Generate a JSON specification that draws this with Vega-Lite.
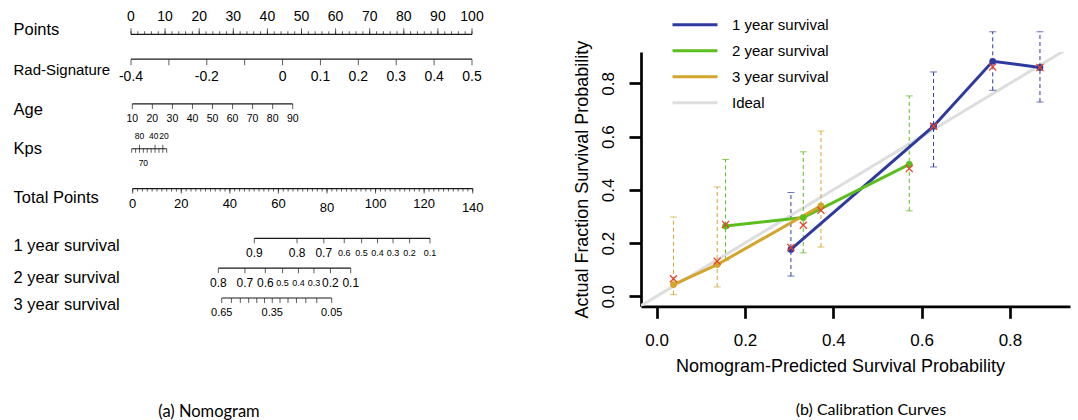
{
  "$schema": "https://vega.github.io/schema/vega-lite/v6.json",
  "background": "white",
  "padding": {"left": 13, "top": 10, "right": 2, "bottom": 2},
  "config": {"view": {"stroke": null}, "font": "Liberation Sans"},
  "datasets": {
    "nomo": [
      {"row":"Points","v":0,"lab":"0"},{"row":"Points","v":2},{"row":"Points","v":4},{"row":"Points","v":6},{"row":"Points","v":8},
      {"row":"Points","v":10,"lab":"10"},{"row":"Points","v":12},{"row":"Points","v":14},{"row":"Points","v":16},{"row":"Points","v":18},
      {"row":"Points","v":20,"lab":"20"},{"row":"Points","v":22},{"row":"Points","v":24},{"row":"Points","v":26},{"row":"Points","v":28},
      {"row":"Points","v":30,"lab":"30"},{"row":"Points","v":32},{"row":"Points","v":34},{"row":"Points","v":36},{"row":"Points","v":38},
      {"row":"Points","v":40,"lab":"40"},{"row":"Points","v":42},{"row":"Points","v":44},{"row":"Points","v":46},{"row":"Points","v":48},
      {"row":"Points","v":50,"lab":"50"},{"row":"Points","v":52},{"row":"Points","v":54},{"row":"Points","v":56},{"row":"Points","v":58},
      {"row":"Points","v":60,"lab":"60"},{"row":"Points","v":62},{"row":"Points","v":64},{"row":"Points","v":66},{"row":"Points","v":68},
      {"row":"Points","v":70,"lab":"70"},{"row":"Points","v":72},{"row":"Points","v":74},{"row":"Points","v":76},{"row":"Points","v":78},
      {"row":"Points","v":80,"lab":"80"},{"row":"Points","v":82},{"row":"Points","v":84},{"row":"Points","v":86},{"row":"Points","v":88},
      {"row":"Points","v":90,"lab":"90"},{"row":"Points","v":92},{"row":"Points","v":94},{"row":"Points","v":96},{"row":"Points","v":98},
      {"row":"Points","v":100,"lab":"100"},
      {"row":"Rad-Signature","v":-0.4,"lab":"-0.4"},{"row":"Rad-Signature","v":-0.3},{"row":"Rad-Signature","v":-0.2,"lab":"-0.2"},
      {"row":"Rad-Signature","v":-0.1},{"row":"Rad-Signature","v":0,"lab":"0"},{"row":"Rad-Signature","v":0.1,"lab":"0.1"},
      {"row":"Rad-Signature","v":0.2,"lab":"0.2"},{"row":"Rad-Signature","v":0.3,"lab":"0.3"},{"row":"Rad-Signature","v":0.4,"lab":"0.4"},
      {"row":"Rad-Signature","v":0.5,"lab":"0.5"},
      {"row":"Age","v":10,"lab":"10"},{"row":"Age","v":20,"lab":"20"},{"row":"Age","v":30,"lab":"30"},{"row":"Age","v":40,"lab":"40"},
      {"row":"Age","v":50,"lab":"50"},{"row":"Age","v":60,"lab":"60"},{"row":"Age","v":70,"lab":"70"},{"row":"Age","v":80,"lab":"80"},
      {"row":"Age","v":90,"lab":"90"},
      {"row":"Kps","v":100},{"row":"Kps","v":90},{"row":"Kps","v":80,"lab":"80"},{"row":"Kps","v":70,"lab":"70"},{"row":"Kps","v":60},
      {"row":"Kps","v":50},{"row":"Kps","v":40,"lab":"40"},{"row":"Kps","v":30},{"row":"Kps","v":20,"lab":"20"},{"row":"Kps","v":10},
      {"row":"Total Points","v":0,"lab":"0"},{"row":"Total Points","v":2},{"row":"Total Points","v":4},{"row":"Total Points","v":6},{"row":"Total Points","v":8},
      {"row":"Total Points","v":10},{"row":"Total Points","v":12},{"row":"Total Points","v":14},{"row":"Total Points","v":16},{"row":"Total Points","v":18},
      {"row":"Total Points","v":20,"lab":"20"},{"row":"Total Points","v":22},{"row":"Total Points","v":24},{"row":"Total Points","v":26},{"row":"Total Points","v":28},
      {"row":"Total Points","v":30},{"row":"Total Points","v":32},{"row":"Total Points","v":34},{"row":"Total Points","v":36},{"row":"Total Points","v":38},
      {"row":"Total Points","v":40,"lab":"40"},{"row":"Total Points","v":42},{"row":"Total Points","v":44},{"row":"Total Points","v":46},{"row":"Total Points","v":48},
      {"row":"Total Points","v":50},{"row":"Total Points","v":52},{"row":"Total Points","v":54},{"row":"Total Points","v":56},{"row":"Total Points","v":58},
      {"row":"Total Points","v":60,"lab":"60"},{"row":"Total Points","v":62},{"row":"Total Points","v":64},{"row":"Total Points","v":66},{"row":"Total Points","v":68},
      {"row":"Total Points","v":70},{"row":"Total Points","v":72},{"row":"Total Points","v":74},{"row":"Total Points","v":76},{"row":"Total Points","v":78},
      {"row":"Total Points","v":80,"lab":"80"},{"row":"Total Points","v":82},{"row":"Total Points","v":84},{"row":"Total Points","v":86},{"row":"Total Points","v":88},
      {"row":"Total Points","v":90},{"row":"Total Points","v":92},{"row":"Total Points","v":94},{"row":"Total Points","v":96},{"row":"Total Points","v":98},
      {"row":"Total Points","v":100,"lab":"100"},{"row":"Total Points","v":102},{"row":"Total Points","v":104},{"row":"Total Points","v":106},{"row":"Total Points","v":108},
      {"row":"Total Points","v":110},{"row":"Total Points","v":112},{"row":"Total Points","v":114},{"row":"Total Points","v":116},{"row":"Total Points","v":118},
      {"row":"Total Points","v":120,"lab":"120"},{"row":"Total Points","v":122},{"row":"Total Points","v":124},{"row":"Total Points","v":126},{"row":"Total Points","v":128},
      {"row":"Total Points","v":130},{"row":"Total Points","v":132},{"row":"Total Points","v":134},{"row":"Total Points","v":136},{"row":"Total Points","v":138},
      {"row":"Total Points","v":140,"lab":"140"},
      {"row":"1 year survival","v":50.07,"lab":"0.9"},{"row":"1 year survival","v":67.68,"lab":"0.8"},{"row":"1 year survival","v":78.68,"lab":"0.7"},
      {"row":"1 year survival","v":87.10,"lab":"0.6"},{"row":"1 year survival","v":94.26,"lab":"0.5"},{"row":"1 year survival","v":100.81,"lab":"0.4"},
      {"row":"1 year survival","v":107.21,"lab":"0.3"},{"row":"1 year survival","v":114.02,"lab":"0.2"},{"row":"1 year survival","v":122.42,"lab":"0.1"},
      {"row":"2 year survival","v":35.25,"lab":"0.8"},{"row":"2 year survival","v":46.21,"lab":"0.7"},{"row":"2 year survival","v":54.60,"lab":"0.6"},
      {"row":"2 year survival","v":61.73,"lab":"0.5"},{"row":"2 year survival","v":68.25,"lab":"0.4"},{"row":"2 year survival","v":74.63,"lab":"0.3"},
      {"row":"2 year survival","v":81.41,"lab":"0.2"},{"row":"2 year survival","v":89.77,"lab":"0.1"},
      {"row":"3 year survival","v":36.66,"lab":"0.65"},{"row":"3 year survival","v":40.64},{"row":"3 year survival","v":44.31},
      {"row":"3 year survival","v":47.76},{"row":"3 year survival","v":51.07},{"row":"3 year survival","v":54.28},
      {"row":"3 year survival","v":57.46,"lab":"0.35"},{"row":"3 year survival","v":60.65},{"row":"3 year survival","v":63.95},
      {"row":"3 year survival","v":67.43},{"row":"3 year survival","v":71.27},{"row":"3 year survival","v":75.79},
      {"row":"3 year survival","v":81.94,"lab":"0.05"}
    ],
    "cal": [
      {"series":"1 year survival","pred":0.304,"obs":0.176,"corr":0.183,"lo":0.076,"hi":0.390},
      {"series":"1 year survival","pred":0.627,"obs":0.639,"corr":0.639,"lo":0.486,"hi":0.843},
      {"series":"1 year survival","pred":0.761,"obs":0.883,"corr":0.862,"lo":0.774,"hi":0.994},
      {"series":"1 year survival","pred":0.868,"obs":0.860,"corr":0.860,"lo":0.730,"hi":0.994},
      {"series":"2 year survival","pred":0.156,"obs":0.264,"corr":0.270,"lo":0.135,"hi":0.514},
      {"series":"2 year survival","pred":0.332,"obs":0.296,"corr":0.267,"lo":0.163,"hi":0.543},
      {"series":"2 year survival","pred":0.572,"obs":0.496,"corr":0.480,"lo":0.321,"hi":0.753},
      {"series":"3 year survival","pred":0.038,"obs":0.044,"corr":0.066,"lo":0.006,"hi":0.298},
      {"series":"3 year survival","pred":0.137,"obs":0.119,"corr":0.132,"lo":0.035,"hi":0.411},
      {"series":"3 year survival","pred":0.372,"obs":0.340,"corr":0.323,"lo":0.185,"hi":0.621}
    ],
    "ideal": [
      {"series":"Ideal","pred":-0.1,"obs":-0.1},
      {"series":"Ideal","pred":1.1,"obs":1.1}
    ]
  },
  "spacing": 151,
  "bounds": "flush",
  "resolve": {"scale": {"color": "independent"}, "legend": {"color": "independent"}},
  "hconcat": [
    {
      "width": 370,
      "height": 254.3,
      "title": {"text": "(a) Nomogram", "orient": "bottom", "anchor": "middle", "frame": "group", "dx": -96, "offset": 86, "font": "Lato", "fontSize": 16.5, "fontWeight": "normal", "color": "black"},
      "data": {"name": "nomo"},
      "encoding": {
        "y": {
          "field": "row", "type": "nominal",
          "scale": {"type": "point", "padding": 0, "range": [-17.7, 246],
            "domain": ["Points","s1","s2","s3","s4","Rad-Signature","s6","s7","s8","s9","s10","s11","s12","s13","Age","s15","s16","s17","s18","s19","s20","s21","s22","Kps","s24","s25","s26","s27","s28","s29","s30","Total Points","s32","s33","s34","s35","s36","s37","s38","s39","s40","1 year survival","s42","s43","s44","s45","s46","2 year survival","s48","s49","s50","s51","s52","3 year survival"]},
          "axis": {
            "values": ["Points","Rad-Signature","Age","Kps","Total Points","1 year survival","2 year survival","3 year survival"],
            "domain": false, "ticks": false, "tickSize": 0, "grid": false, "title": null,
            "labelAlign": "left", "labelBaseline": "middle", "labelPadding": 107, "labelLimit": 0,
            "labelFont": "Liberation Sans", "labelColor": "black",
            "labelFontSize": {"condition": {"test": "datum.value == 'Rad-Signature'", "value": 15}, "value": 16.5},
            "labelOffset": {"condition": [
              {"test": "datum.value == 'Points'", "value": -5},
              {"test": "datum.value == 'Rad-Signature'", "value": 10},
              {"test": "datum.value == 'Age'", "value": 6},
              {"test": "datum.value == 'Kps'", "value": 0},
              {"test": "datum.value == 'Total Points' || datum.value == '2 year survival'", "value": 9}
            ], "value": 7}
          }
        }
      },
      "resolve": {"scale": {"x": "independent"}},
      "layer": [
        {
          "transform": [{"filter": "datum.row == 'Points'"}],
          "encoding": {"x": {"field": "v", "type": "quantitative", "scale": {"domain": [-3.226, 105.279], "nice": false, "zero": false}, "axis": null}},
          "layer": [
            {"mark": {"type": "rule", "color": "#1a1a1a", "strokeWidth": 1.2},
             "encoding": {"x": {"aggregate": "min", "field": "v", "type": "quantitative", "scale": {"domain": [-3.226, 105.279], "nice": false, "zero": false}, "axis": null}, "x2": {"aggregate": "max", "field": "v"}}},
            {"mark": {"type": "tick", "orient": "vertical", "size": 3, "thickness": 1, "yOffset": -1.5, "color": "#1a1a1a"}},
            {"transform": [{"filter": "isValid(datum.lab)"}], "mark": {"type": "tick", "orient": "vertical", "size": 6, "thickness": 1, "yOffset": -3, "color": "#1a1a1a"}},
            {"transform": [{"filter": "isValid(datum.lab)"}], "mark": {"type": "text", "dy": -17, "fontSize": 14, "baseline": "middle", "color": "black", "font": "Liberation Sans"}, "encoding": {"text": {"field": "lab", "type": "nominal"}}}
          ]
        },
        {
          "transform": [{"filter": "datum.row == 'Kps'"}],
          "encoding": {"x": {"field": "v", "type": "quantitative", "scale": {"domain": [130.08, -821.3], "nice": false, "zero": false}, "axis": null}},
          "layer": [
            {"mark": {"type": "rule", "color": "#1a1a1a", "strokeWidth": 1.2},
             "encoding": {"x": {"aggregate": "min", "field": "v", "type": "quantitative", "scale": {"domain": [130.08, -821.3], "nice": false, "zero": false}, "axis": null}, "x2": {"aggregate": "max", "field": "v"}}},
            {"mark": {"type": "tick", "orient": "vertical", "size": 4, "thickness": 1, "yOffset": 2, "color": "#1a1a1a"}},
            {"transform": [{"filter": "isValid(datum.lab) && datum.lab != '70'"}], "mark": {"type": "tick", "orient": "vertical", "size": 4, "thickness": 1, "yOffset": -2, "color": "#1a1a1a"}},
            {"transform": [{"filter": "datum.lab == '80'"}], "mark": {"type": "text", "dy": -13, "fontSize": 8.5, "baseline": "middle", "color": "black", "font": "Liberation Sans"}, "encoding": {"text": {"field": "lab", "type": "nominal"}}},
            {"transform": [{"filter": "datum.lab == '40'"}], "mark": {"type": "text", "dy": -13, "dx": -1.4, "fontSize": 8.5, "baseline": "middle", "color": "black", "font": "Liberation Sans"}, "encoding": {"text": {"field": "lab", "type": "nominal"}}},
            {"transform": [{"filter": "datum.lab == '20'"}], "mark": {"type": "text", "dy": -13, "dx": 1.2, "fontSize": 8.5, "baseline": "middle", "color": "black", "font": "Liberation Sans"}, "encoding": {"text": {"field": "lab", "type": "nominal"}}},
            {"transform": [{"filter": "datum.lab == '70'"}], "mark": {"type": "text", "dy": 14, "fontSize": 8.5, "baseline": "middle", "color": "black", "font": "Liberation Sans"}, "encoding": {"text": {"field": "lab", "type": "nominal"}}}
          ]
        },
        {
          "transform": [{"filter": "datum.row == 'Rad-Signature'"}],
          "encoding": {"x": {"field": "v", "type": "quantitative", "scale": {"domain": [-0.42903, 0.54751], "nice": false, "zero": false}, "axis": null}},
          "layer": [
            {"mark": {"type": "rule", "color": "#1a1a1a", "strokeWidth": 1.2},
             "encoding": {"x": {"aggregate": "min", "field": "v", "type": "quantitative", "scale": {"domain": [-0.42903, 0.54751], "nice": false, "zero": false}, "axis": null}, "x2": {"aggregate": "max", "field": "v"}}},
            {"mark": {"type": "tick", "orient": "vertical", "size": 6, "thickness": 1, "yOffset": 3, "color": "#1a1a1a"}},
            {"transform": [{"filter": "isValid(datum.lab)"}], "mark": {"type": "text", "dy": 18, "fontSize": 14, "baseline": "middle", "color": "black", "font": "Liberation Sans"}, "encoding": {"text": {"field": "lab", "type": "nominal"}}}
          ]
        },
        {
          "transform": [{"filter": "datum.row == 'Age'"}],
          "encoding": {"x": {"field": "v", "type": "quantitative", "scale": {"domain": [3.865, 188.40], "nice": false, "zero": false}, "axis": null}},
          "layer": [
            {"mark": {"type": "rule", "color": "#1a1a1a", "strokeWidth": 1.2},
             "encoding": {"x": {"aggregate": "min", "field": "v", "type": "quantitative", "scale": {"domain": [3.865, 188.40], "nice": false, "zero": false}, "axis": null}, "x2": {"aggregate": "max", "field": "v"}}},
            {"mark": {"type": "tick", "orient": "vertical", "size": 5, "thickness": 1, "yOffset": 2.5, "color": "#1a1a1a"}},
            {"mark": {"type": "text", "dy": 15.5, "fontSize": 10.5, "baseline": "middle", "color": "black", "font": "Liberation Sans"}, "encoding": {"text": {"field": "lab", "type": "nominal"}}}
          ]
        },
        {
          "transform": [{"filter": "datum.row == 'Total Points' || datum.row == '1 year survival' || datum.row == '2 year survival' || datum.row == '3 year survival'"}],
          "encoding": {"x": {"field": "v", "type": "quantitative", "scale": {"domain": [-5.229, 147.12], "nice": false, "zero": false}, "axis": null}},
          "layer": [
            {"mark": {"type": "rule", "color": "#1a1a1a", "strokeWidth": 1.2},
             "encoding": {"x": {"aggregate": "min", "field": "v", "type": "quantitative", "scale": {"domain": [-5.229, 147.12], "nice": false, "zero": false}, "axis": null}, "x2": {"aggregate": "max", "field": "v"}}},
            {"transform": [{"filter": "datum.row == 'Total Points'"}], "mark": {"type": "tick", "orient": "vertical", "size": 3, "thickness": 1, "yOffset": 1.5, "color": "#1a1a1a"}},
            {"transform": [{"filter": "datum.row != 'Total Points' || isValid(datum.lab)"}], "mark": {"type": "tick", "orient": "vertical", "size": 5, "thickness": 1, "yOffset": 2.5, "color": "#1a1a1a"}},
            {"transform": [{"filter": "datum.row == 'Total Points' && isValid(datum.lab) && datum.lab != '80' && datum.lab != '140'"}], "mark": {"type": "text", "dy": 15, "fontSize": 13, "baseline": "middle", "color": "black", "font": "Liberation Sans"}, "encoding": {"text": {"field": "lab", "type": "nominal"}}},
            {"transform": [{"filter": "datum.row == 'Total Points' && (datum.lab == '80' || datum.lab == '140')"}], "mark": {"type": "text", "dy": 19, "fontSize": 13, "baseline": "middle", "color": "black", "font": "Liberation Sans"}, "encoding": {"text": {"field": "lab", "type": "nominal"}}},
            {"transform": [{"filter": "datum.row != 'Total Points' && isValid(datum.lab)"}], "mark": {"type": "text", "dy": 15, "baseline": "middle", "color": "black", "font": "Liberation Sans"},
             "encoding": {"text": {"field": "lab", "type": "nominal"},
               "size": {"condition": [
                 {"test": "datum.row == '3 year survival'", "value": 11},
                 {"test": "(datum.row == '1 year survival' && datum.v > 85) || (datum.row == '2 year survival' && datum.v > 58 && datum.v < 78)", "value": 9}
               ], "value": 12}}}
          ]
        }
      ]
    },
    {
      "width": 429,
      "height": 254.3,
      "title": {"text": "(b) Calibration Curves", "orient": "bottom", "anchor": "middle", "frame": "group", "dx": 15.5, "offset": 27, "font": "Lato", "fontSize": 16, "fontWeight": "normal", "color": "black"},
      "encoding": {
        "x": {"field": "pred", "type": "quantitative",
          "scale": {"domain": [-0.0355, 0.936], "nice": false, "zero": false},
          "axis": {"values": [0, 0.2, 0.4, 0.6, 0.8], "format": ".1f", "grid": false, "labelFlush": false,
            "title": "Nomogram-Predicted Survival Probability", "titleFont": "Liberation Sans", "titleFontSize": 18, "titleFontWeight": "normal", "titleColor": "black", "titlePadding": 9, "titleX": 199, "titleAlign": "center",
            "labelFont": "Liberation Sans", "labelFontSize": 17, "labelColor": "black", "labelPadding": 14,
            "domainColor": "black", "domainWidth": 2.7, "tickColor": "black", "tickWidth": 2.7, "tickSize": 12}}
      },
      "layer": [
        {"data": {"name": "ideal"}, "mark": {"type": "line", "clip": true, "strokeWidth": 3},
         "encoding": {
           "y": {"field": "obs", "type": "quantitative", "scale": {"domain": [-0.0376, 0.918], "nice": false, "zero": false},
             "axis": {"values": [0, 0.2, 0.4, 0.6, 0.8], "format": ".1f", "grid": false, "labelFlush": false, "title": "Actual Fraction Survival Probability", "titleFont": "Liberation Sans", "titleFontSize": 18, "titleFontWeight": "normal", "titleColor": "black", "titlePadding": 8, "labelFont": "Liberation Sans", "labelFontSize": 17, "labelColor": "black", "labelPadding": 11, "labelAngle": 270, "labelAlign": "center", "labelBaseline": "bottom", "domainColor": "black", "domainWidth": 2.7, "tickColor": "black", "tickWidth": 2.7, "tickSize": 12}},
           "color": {"field": "series", "type": "nominal", "scale": {"domain": ["1 year survival","2 year survival","3 year survival","Ideal"], "range": ["#2E3AA0","#5BBE1C","#D4A52C","#DEDEDE"]},
             "legend": {"orient": "none", "legendX": 45, "legendY": -36.2, "title": null, "padding": 0, "symbolType": "M-3,0L3,0", "symbolSize": 225, "symbolStrokeWidth": 3, "symbolOpacity": 1, "labelFont": "Liberation Sans", "labelFontSize": 15, "labelColor": "black", "labelOffset": 28, "rowPadding": 9}}}},
        {"data": {"name": "cal"}, "mark": {"type": "rule", "strokeDash": [4, 3], "strokeWidth": 1},
         "encoding": {
           "y": {"field": "lo", "type": "quantitative", "scale": {"domain": [-0.0376, 0.918], "nice": false, "zero": false},
             "axis": {"values": [0, 0.2, 0.4, 0.6, 0.8], "format": ".1f", "grid": false, "labelFlush": false, "title": "Actual Fraction Survival Probability", "titleFont": "Liberation Sans", "titleFontSize": 18, "titleFontWeight": "normal", "titleColor": "black", "titlePadding": 8, "labelFont": "Liberation Sans", "labelFontSize": 17, "labelColor": "black", "labelPadding": 11, "labelAngle": 270, "labelAlign": "center", "labelBaseline": "bottom", "domainColor": "black", "domainWidth": 2.7, "tickColor": "black", "tickWidth": 2.7, "tickSize": 12}},
           "y2": {"field": "hi"},
           "color": {"field": "series", "type": "nominal", "scale": {"domain": ["1 year survival","2 year survival","3 year survival","Ideal"], "range": ["#2E3AA0","#5BBE1C","#D4A52C","#DEDEDE"]},
             "legend": {"orient": "none", "legendX": 45, "legendY": -36.2, "title": null, "padding": 0, "symbolType": "M-3,0L3,0", "symbolSize": 225, "symbolStrokeWidth": 3, "symbolOpacity": 1, "labelFont": "Liberation Sans", "labelFontSize": 15, "labelColor": "black", "labelOffset": 28, "rowPadding": 9}}}},
        {"data": {"name": "cal"}, "mark": {"type": "tick", "orient": "horizontal", "size": 7, "thickness": 1},
         "encoding": {
           "y": {"field": "lo", "type": "quantitative", "scale": {"domain": [-0.0376, 0.918], "nice": false, "zero": false},
             "axis": {"values": [0, 0.2, 0.4, 0.6, 0.8], "format": ".1f", "grid": false, "labelFlush": false, "title": "Actual Fraction Survival Probability", "titleFont": "Liberation Sans", "titleFontSize": 18, "titleFontWeight": "normal", "titleColor": "black", "titlePadding": 8, "labelFont": "Liberation Sans", "labelFontSize": 17, "labelColor": "black", "labelPadding": 11, "labelAngle": 270, "labelAlign": "center", "labelBaseline": "bottom", "domainColor": "black", "domainWidth": 2.7, "tickColor": "black", "tickWidth": 2.7, "tickSize": 12}},
           "color": {"field": "series", "type": "nominal", "scale": {"domain": ["1 year survival","2 year survival","3 year survival","Ideal"], "range": ["#2E3AA0","#5BBE1C","#D4A52C","#DEDEDE"]},
             "legend": {"orient": "none", "legendX": 45, "legendY": -36.2, "title": null, "padding": 0, "symbolType": "M-3,0L3,0", "symbolSize": 225, "symbolStrokeWidth": 3, "symbolOpacity": 1, "labelFont": "Liberation Sans", "labelFontSize": 15, "labelColor": "black", "labelOffset": 28, "rowPadding": 9}}}},
        {"data": {"name": "cal"}, "mark": {"type": "tick", "orient": "horizontal", "size": 7, "thickness": 1},
         "encoding": {
           "y": {"field": "hi", "type": "quantitative", "scale": {"domain": [-0.0376, 0.918], "nice": false, "zero": false},
             "axis": {"values": [0, 0.2, 0.4, 0.6, 0.8], "format": ".1f", "grid": false, "labelFlush": false, "title": "Actual Fraction Survival Probability", "titleFont": "Liberation Sans", "titleFontSize": 18, "titleFontWeight": "normal", "titleColor": "black", "titlePadding": 8, "labelFont": "Liberation Sans", "labelFontSize": 17, "labelColor": "black", "labelPadding": 11, "labelAngle": 270, "labelAlign": "center", "labelBaseline": "bottom", "domainColor": "black", "domainWidth": 2.7, "tickColor": "black", "tickWidth": 2.7, "tickSize": 12}},
           "color": {"field": "series", "type": "nominal", "scale": {"domain": ["1 year survival","2 year survival","3 year survival","Ideal"], "range": ["#2E3AA0","#5BBE1C","#D4A52C","#DEDEDE"]},
             "legend": {"orient": "none", "legendX": 45, "legendY": -36.2, "title": null, "padding": 0, "symbolType": "M-3,0L3,0", "symbolSize": 225, "symbolStrokeWidth": 3, "symbolOpacity": 1, "labelFont": "Liberation Sans", "labelFontSize": 15, "labelColor": "black", "labelOffset": 28, "rowPadding": 9}}}},
        {"data": {"name": "cal"}, "mark": {"type": "line", "strokeWidth": 3},
         "encoding": {
           "y": {"field": "obs", "type": "quantitative", "scale": {"domain": [-0.0376, 0.918], "nice": false, "zero": false},
             "axis": {"values": [0, 0.2, 0.4, 0.6, 0.8], "format": ".1f", "grid": false, "labelFlush": false, "title": "Actual Fraction Survival Probability", "titleFont": "Liberation Sans", "titleFontSize": 18, "titleFontWeight": "normal", "titleColor": "black", "titlePadding": 8, "labelFont": "Liberation Sans", "labelFontSize": 17, "labelColor": "black", "labelPadding": 11, "labelAngle": 270, "labelAlign": "center", "labelBaseline": "bottom", "domainColor": "black", "domainWidth": 2.7, "tickColor": "black", "tickWidth": 2.7, "tickSize": 12}},
           "color": {"field": "series", "type": "nominal", "scale": {"domain": ["1 year survival","2 year survival","3 year survival","Ideal"], "range": ["#2E3AA0","#5BBE1C","#D4A52C","#DEDEDE"]},
             "legend": {"orient": "none", "legendX": 45, "legendY": -36.2, "title": null, "padding": 0, "symbolType": "M-3,0L3,0", "symbolSize": 225, "symbolStrokeWidth": 3, "symbolOpacity": 1, "labelFont": "Liberation Sans", "labelFontSize": 15, "labelColor": "black", "labelOffset": 28, "rowPadding": 9}}}},
        {"data": {"name": "cal"}, "mark": {"type": "point", "filled": true, "size": 45, "opacity": 1},
         "encoding": {
           "y": {"field": "obs", "type": "quantitative", "scale": {"domain": [-0.0376, 0.918], "nice": false, "zero": false},
             "axis": {"values": [0, 0.2, 0.4, 0.6, 0.8], "format": ".1f", "grid": false, "labelFlush": false, "title": "Actual Fraction Survival Probability", "titleFont": "Liberation Sans", "titleFontSize": 18, "titleFontWeight": "normal", "titleColor": "black", "titlePadding": 8, "labelFont": "Liberation Sans", "labelFontSize": 17, "labelColor": "black", "labelPadding": 11, "labelAngle": 270, "labelAlign": "center", "labelBaseline": "bottom", "domainColor": "black", "domainWidth": 2.7, "tickColor": "black", "tickWidth": 2.7, "tickSize": 12}},
           "color": {"field": "series", "type": "nominal", "scale": {"domain": ["1 year survival","2 year survival","3 year survival","Ideal"], "range": ["#2E3AA0","#5BBE1C","#D4A52C","#DEDEDE"]},
             "legend": {"orient": "none", "legendX": 45, "legendY": -36.2, "title": null, "padding": 0, "symbolType": "M-3,0L3,0", "symbolSize": 225, "symbolStrokeWidth": 3, "symbolOpacity": 1, "labelFont": "Liberation Sans", "labelFontSize": 15, "labelColor": "black", "labelOffset": 28, "rowPadding": 9}}}},
        {"data": {"name": "cal"}, "mark": {"type": "point", "shape": "M-1,-1L1,1M-1,1L1,-1", "filled": false, "stroke": "#E5432A", "strokeWidth": 1.3, "size": 50, "opacity": 1},
         "encoding": {
           "y": {"field": "corr", "type": "quantitative", "scale": {"domain": [-0.0376, 0.918], "nice": false, "zero": false},
             "axis": {"values": [0, 0.2, 0.4, 0.6, 0.8], "format": ".1f", "grid": false, "labelFlush": false, "title": "Actual Fraction Survival Probability", "titleFont": "Liberation Sans", "titleFontSize": 18, "titleFontWeight": "normal", "titleColor": "black", "titlePadding": 8, "labelFont": "Liberation Sans", "labelFontSize": 17, "labelColor": "black", "labelPadding": 11, "labelAngle": 270, "labelAlign": "center", "labelBaseline": "bottom", "domainColor": "black", "domainWidth": 2.7, "tickColor": "black", "tickWidth": 2.7, "tickSize": 12}}}}
      ]
    }
  ]
}
